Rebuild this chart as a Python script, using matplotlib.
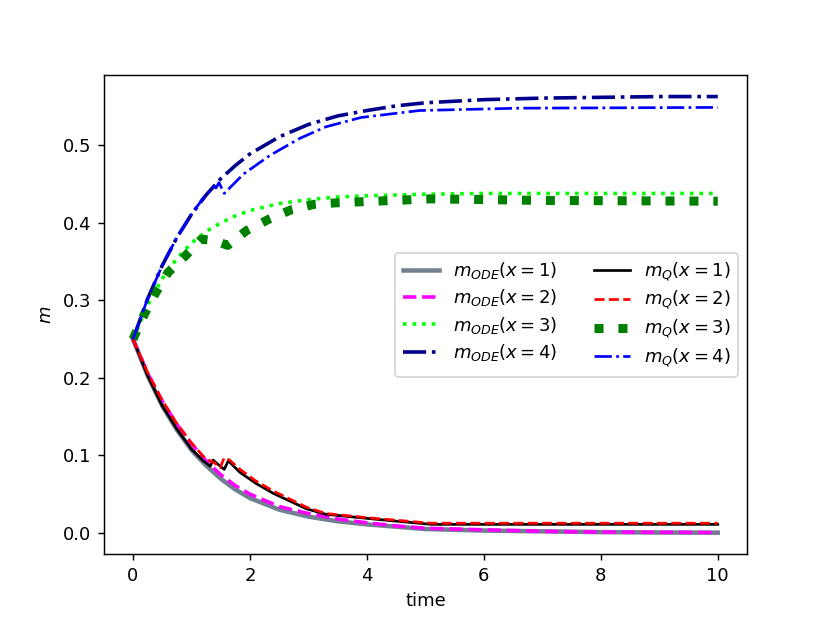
import matplotlib
matplotlib.use("Agg")
import matplotlib.pyplot as plt

# ODE solutions
t_ode = [0, 0.25, 0.5, 0.75, 1.0, 1.25, 1.5, 1.75, 2.0, 2.5, 3.0, 3.5, 4.0, 4.5, 5.0, 6.0, 7.0, 8.0, 9.0, 10.0]
m_ode1 = [0.250, 0.203, 0.164, 0.133, 0.107, 0.087, 0.070, 0.056, 0.045, 0.030, 0.021, 0.015, 0.011,
          0.008, 0.005, 0.003, 0.002, 0.001, 0.0005, 0.0003]
m_ode2 = [0.250, 0.206, 0.170, 0.140, 0.115, 0.093, 0.075, 0.061, 0.050, 0.034, 0.025, 0.018, 0.013,
          0.009, 0.006, 0.004, 0.002, 0.001, 0.0008, 0.0005]
m_ode3 = [0.250, 0.294, 0.328, 0.354, 0.374, 0.389, 0.400, 0.409, 0.416, 0.425, 0.430, 0.4335, 0.435,
          0.436, 0.437, 0.438, 0.438, 0.438, 0.438, 0.438]
m_ode4 = [0.250, 0.302, 0.345, 0.381, 0.411, 0.436, 0.457, 0.474, 0.489, 0.511, 0.527, 0.538, 0.545,
          0.551, 0.555, 0.559, 0.561, 0.562, 0.563, 0.563]

# Q-learning estimates
t_q1 = [0, 0.25, 0.5, 0.75, 1.0, 1.2, 1.32, 1.37, 1.46, 1.56, 1.63, 1.83, 2.1, 2.4, 2.97, 3.3, 4.1, 5.1, 6, 8, 10]
m_q1 = [0.25, 0.203, 0.164, 0.134, 0.108, 0.093, 0.086, 0.094, 0.088, 0.082, 0.093, 0.078, 0.064, 0.051,
        0.031, 0.024, 0.018, 0.011, 0.011, 0.011, 0.011]
t_q2 = [0, 0.25, 0.5, 0.75, 1.0, 1.2, 1.32, 1.40, 1.49, 1.56, 1.65, 1.83, 2.1, 2.4, 2.97, 3.3, 4.1, 5.1, 6, 8, 10]
m_q2 = [0.25, 0.207, 0.171, 0.141, 0.116, 0.099, 0.093, 0.090, 0.084, 0.097, 0.094, 0.082, 0.067, 0.054,
        0.033, 0.025, 0.019, 0.0125, 0.0125, 0.0125, 0.0125]
t_q3 = [0, 0.2, 0.39, 0.6, 0.89, 1.17, 1.4, 1.62, 1.94, 2.33, 2.71, 3.1, 3.5, 5.1, 7, 10]
m_q3 = [0.25, 0.283, 0.310, 0.336, 0.357, 0.379, 0.377, 0.371, 0.390, 0.405, 0.417, 0.424, 0.426,
        0.431, 0.429, 0.428]
t_q4 = [0, 0.25, 0.5, 0.75, 1.0, 1.2, 1.32, 1.38, 1.42, 1.47, 1.56, 1.89, 2.34, 2.85, 3.3, 3.9, 4.9, 6.6, 10]
m_q4 = [0.25, 0.302, 0.345, 0.381, 0.411, 0.432, 0.442, 0.447, 0.445, 0.452, 0.438, 0.463, 0.487,
        0.509, 0.524, 0.536, 0.545, 0.548, 0.549]

fig, ax = plt.subplots(figsize=(830 / 130, 623 / 130), dpi=130)

ax.plot(t_ode, m_ode1, color='slategray', lw=2.5, label=r'$m_{ODE}(x=1)$')
ax.plot(t_ode, m_ode2, color='magenta', ls='--', lw=2, label=r'$m_{ODE}(x=2)$')
ax.plot(t_ode, m_ode3, color='lime', ls=':', lw=2, label=r'$m_{ODE}(x=3)$')
ax.plot(t_ode, m_ode4, color='darkblue', ls='-.', lw=2, label=r'$m_{ODE}(x=4)$')
ax.plot(t_q1, m_q1, color='black', lw=1.5, label=r'$m_Q(x=1)$')
ax.plot(t_q2, m_q2, color='red', ls='--', lw=1.5, label=r'$m_Q(x=2)$')
ax.plot(t_q3, m_q3, color='green', ls=':', lw=5, label=r'$m_Q(x=3)$')
ax.plot(t_q4, m_q4, color='blue', ls='-.', lw=1.5, label=r'$m_Q(x=4)$')

ax.set_xlabel('time')
ax.set_ylabel('$m$')
ax.legend(loc='center right', ncol=2, labelspacing=0.35)

plt.savefig('out.png', dpi=130)
